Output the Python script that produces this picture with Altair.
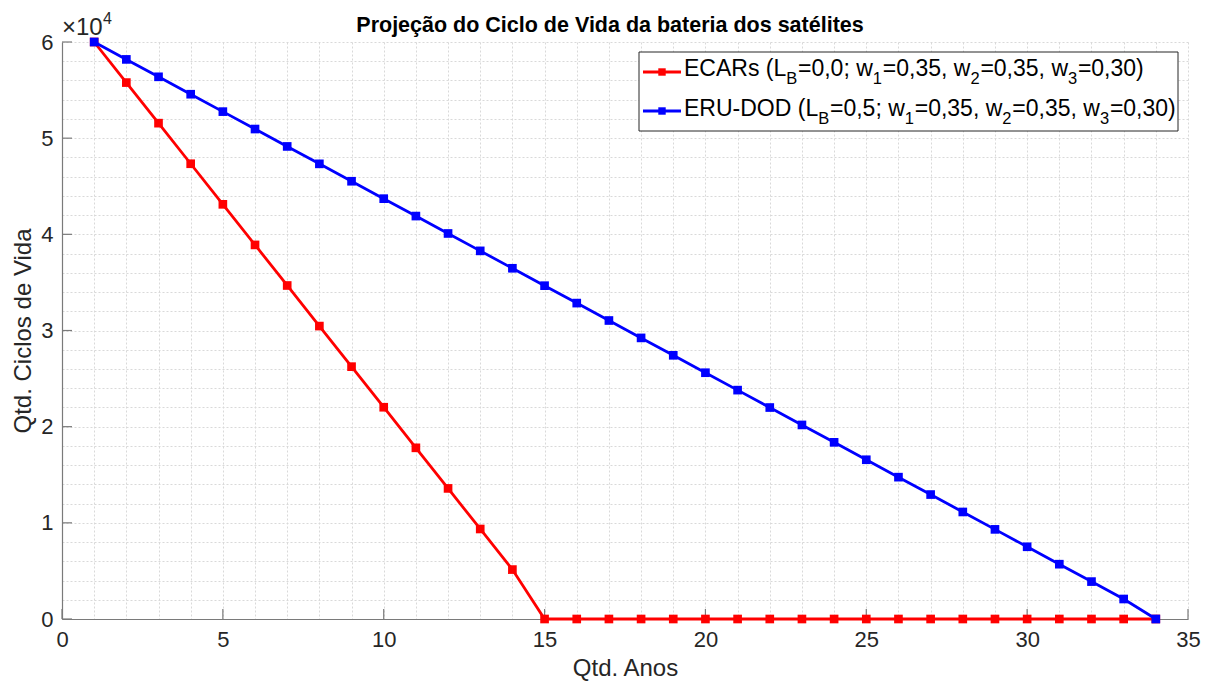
import altair as alt
import pandas as pd

# ---------------- data ----------------
years = [1, 2, 3, 4, 5, 6, 7, 8, 9, 10, 11, 12, 13, 14, 15, 16, 17, 18, 19, 20,
         21, 22, 23, 24, 25, 26, 27, 28, 29, 30, 31, 32, 33, 34]
ecars = [60000, 55780, 51560, 47340, 43120, 38900, 34680, 30460, 26240, 22020,
         17800, 13580, 9360, 5140, 0, 0, 0, 0, 0, 0,
         0, 0, 0, 0, 0, 0, 0, 0, 0, 0, 0, 0, 0, 0]
erudod = [60000, 58190, 56380, 54570, 52760, 50950, 49140, 47330, 45520, 43710,
          41900, 40090, 38280, 36470, 34660, 32850, 31040, 29230, 27420, 25610,
          23800, 21990, 20180, 18370, 16560, 14750, 12940, 11130, 9320, 7510,
          5700, 3890, 2080, 0]

x_major = [0, 5, 10, 15, 20, 25, 30, 35]
x_grid = list(range(0, 36))
y_major = [0, 10000, 20000, 30000, 40000, 50000, 60000]
y_grid = list(range(0, 60001, 2000))

title_text = "Projeção do Ciclo de Vida da bateria dos satélites"
x_title = "Qtd. Anos"
y_title = "Qtd. Ciclos de Vida"

legend_rows = [
    ("red", [("ECARs (L", 0), ("B", 1), ("=0,0; w", 0), ("1", 1), ("=0,35, w", 0),
             ("2", 1), ("=0,35, w", 0), ("3", 1), ("=0,30)", 0)]),
    ("blue", [("ERU-DOD (L", 0), ("B", 1), ("=0,5; w", 0), ("1", 1), ("=0,35, w", 0),
              ("2", 1), ("=0,35, w", 0), ("3", 1), ("=0,30)", 0)]),
]

# ---------------- layout ----------------
W, H = 1126, 577
FONT = "Liberation Sans"
TXT = "#262626"
AX = "#7a7a7a"

xscale = alt.Scale(domain=[0, 35], nice=False, zero=False)
yscale = alt.Scale(domain=[0, 60000], nice=False)

xaxis = alt.Axis(values=x_grid, labelExpr="datum.value % 5 == 0 ? datum.label : ''",
                 ticks=False, grid=True, gridDash=[2, 2], gridColor="#d9d9d9",
                 gridWidth=1, domainColor=AX, domainWidth=1.2,
                 labelFontSize=22, labelColor=TXT, labelFont=FONT, labelPadding=10,
                 labelOverlap=False, labelFlush=False,
                 title=x_title, titleFontSize=24, titleFont=FONT,
                 titleFontWeight="normal", titleColor=TXT, titlePadding=6)
yaxis = alt.Axis(values=y_grid,
                 labelExpr="datum.value % 10000 == 0 ? format(datum.value / 10000, 'd') : ''",
                 ticks=False, grid=True, gridDash=[2, 2], gridColor="#d9d9d9",
                 gridWidth=1, domainColor=AX, domainWidth=1.2,
                 labelFontSize=22, labelColor=TXT, labelFont=FONT, labelPadding=9,
                 labelOverlap=False, labelFlush=False,
                 title=y_title, titleFontSize=24, titleFont=FONT,
                 titleFontWeight="normal", titleColor=TXT, titlePadding=5)

X = alt.X("x:Q", scale=xscale, axis=xaxis)
Y = alt.Y("y:Q", scale=yscale, axis=yaxis)

df_e = pd.DataFrame({"x": years, "y": ecars})
df_b = pd.DataFrame({"x": years, "y": erudod})


def series(df, color):
    return alt.Chart(df).mark_line(
        color=color, strokeWidth=2.8,
        point=alt.OverlayMarkDef(shape="square", size=75, filled=True,
                                 color=color, opacity=1)
    ).encode(x=X, y=Y)


xt = alt.Chart(pd.DataFrame({"x": x_major})).mark_rule(color=AX, strokeWidth=1.2).encode(
    x=X, y=alt.value(H), y2=alt.value(H - 10))
yt = alt.Chart(pd.DataFrame({"y": y_major})).mark_rule(color=AX, strokeWidth=1.2).encode(
    y=Y, x=alt.value(0), x2=alt.value(10))

one = pd.DataFrame({"k": [0]})
layers = [xt, yt, series(df_e, "#ff0000"), series(df_b, "#0000ff")]

# title and exponent
layers.append(alt.Chart(one).mark_text(align="center", baseline="alphabetic", fontSize=21.5,
                                       fontWeight="bold", font=FONT, color="#000").encode(
    x=alt.value(548), y=alt.value(-10), text=alt.value(title_text)))
layers.append(alt.Chart(one).mark_text(align="left", baseline="alphabetic", fontSize=24,
                                       font=FONT, color=TXT).encode(
    x=alt.value(0), y=alt.value(-7), text=alt.value("×10")))
layers.append(alt.Chart(one).mark_text(align="left", baseline="alphabetic", fontSize=16,
                                       font=FONT, color=TXT).encode(
    x=alt.value(41), y=alt.value(-18), text=alt.value("4")))

# legend box
LX0, LX1, LY0, LY1 = 577, 1116, 10, 89
layers.append(alt.Chart(one).mark_rect(fill="white", stroke="#262626", strokeWidth=1).encode(
    x=alt.value(LX0), x2=alt.value(LX1), y=alt.value(LY0), y2=alt.value(LY1)))

# Arial / Liberation Sans advance widths (1/1000 em)
AW = {" ": 278, "(": 333, ")": 333, ",": 278, "-": 333, ".": 278, ";": 278, "=": 584,
      "A": 667, "B": 667, "C": 722, "D": 722, "E": 667, "L": 556, "O": 778, "R": 722,
      "U": 722, "s": 500, "w": 722}


def tw(s, size):
    return sum(AW.get(c, 556) for c in s) * size / 1000.0


FS, SS = 23, 16.5
for i, (color, segs) in enumerate(legend_rows):
    base = 34 + 40 * i
    mid = 30 + 39 * i
    layers.append(alt.Chart(one).mark_rule(color=color, strokeWidth=2.8).encode(
        x=alt.value(581), x2=alt.value(619), y=alt.value(mid)))
    layers.append(alt.Chart(one).mark_point(shape="square", filled=True, size=55,
                                            color=color, opacity=1).encode(
        x=alt.value(600), y=alt.value(mid)))
    px = 622.0
    for seg, sub in segs:
        size = SS if sub else FS
        layers.append(alt.Chart(one).mark_text(align="left", baseline="alphabetic",
                                               fontSize=size, font=FONT, color="#000").encode(
            x=alt.value(round(px, 1)), y=alt.value(base + (8 if sub else 0)),
            text=alt.value(seg)))
        px += tw(seg, size) + (0.8 if sub else 0)

chart = alt.layer(*layers).properties(
    width=W, height=H,
    padding={"left": 62, "top": 42, "right": 25, "bottom": 67},
    autosize=alt.AutoSizeParams(type="none"),
    background="white",
).configure_view(stroke=None)

chart.save("out.html", embed_options={"renderer": "svg", "actions": False})
